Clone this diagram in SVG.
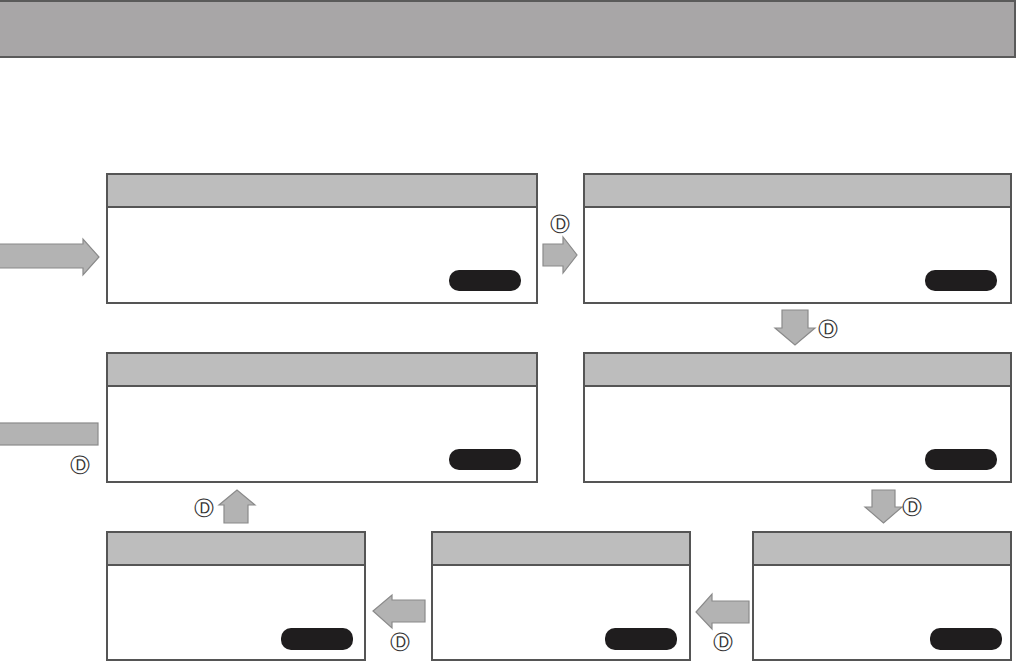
<svg xmlns="http://www.w3.org/2000/svg" width="1017" height="662" viewBox="0 0 1017 662">
<style>
.box{fill:#fff;stroke:#555;stroke-width:2}
.hdr{fill:#bdbdbd;stroke:#555;stroke-width:2}
.pill{fill:#1f1d1e}
.arr{fill:#b3b3b3;stroke:#8a8a8a;stroke-width:1.2}
.d{font-family:"DejaVu Sans",sans-serif;font-size:20px;fill:#333;text-anchor:middle;dominant-baseline:central}
</style>
<rect width="1017" height="662" fill="#fff"/>
<g id="banner"><rect x="-2" y="1" width="1017" height="56" fill="#a8a6a7" stroke="#5a5a5a" stroke-width="2"/></g>
<g id="n1"><rect class="box" x="107" y="174" width="430" height="129"/><rect class="hdr" x="107" y="174" width="430" height="33"/><rect class="pill" x="449" y="270" width="72" height="21" rx="10"/></g>
<g id="n2"><rect class="box" x="584" y="174" width="427" height="129"/><rect class="hdr" x="584" y="174" width="427" height="33"/><rect class="pill" x="925" y="270" width="72" height="21" rx="10"/></g>
<g id="n3"><rect class="box" x="107" y="353" width="430" height="129"/><rect class="hdr" x="107" y="353" width="430" height="33"/><rect class="pill" x="449" y="449" width="72" height="21" rx="10"/></g>
<g id="n4"><rect class="box" x="584" y="353" width="427" height="129"/><rect class="hdr" x="584" y="353" width="427" height="33"/><rect class="pill" x="925" y="449" width="72" height="21" rx="10"/></g>
<g id="n5"><rect class="box" x="107" y="532" width="258" height="128"/><rect class="hdr" x="107" y="532" width="258" height="33"/><rect class="pill" x="281" y="628" width="72" height="22" rx="10"/></g>
<g id="n6"><rect class="box" x="432" y="532" width="258" height="128"/><rect class="hdr" x="432" y="532" width="258" height="33"/><rect class="pill" x="605" y="628" width="72" height="22" rx="10"/></g>
<g id="n7"><rect class="box" x="753" y="532" width="258" height="128"/><rect class="hdr" x="753" y="532" width="258" height="33"/><rect class="pill" x="930" y="628" width="72" height="22" rx="10"/></g>
<g id="connectors">
<polygon class="arr" points="-2,244 83,244 83,239 99,257 83,275 83,268 -2,268"/>
<rect class="arr" x="-2" y="423" width="100" height="22"/>
<polygon class="arr" points="543,244 563,244 563,237 577,255 563,273 563,266 543,266"/>
<polygon class="arr" points="782,310 808,310 808,328 815,328 795,345 775,328 782,328"/>
<polygon class="arr" points="872,490 895,490 895,507 902,507 883.5,523 865,507 872,507"/>
<polygon class="arr" points="224,523 248,523 248,505 255,505 237,490 219,505 224,505"/>
<polygon class="arr" points="425,600 392,600 392,595 373,611 392,628 392,622 425,622"/>
<polygon class="arr" points="749,601 712,601 712,594 696,612 712,629 712,623 749,623"/>
<text class="d" x="560" y="224">Ⓓ</text>
<text class="d" x="80" y="465">Ⓓ</text>
<text class="d" x="828" y="329">Ⓓ</text>
<text class="d" x="912" y="507">Ⓓ</text>
<text class="d" x="204" y="508">Ⓓ</text>
<text class="d" x="400" y="642">Ⓓ</text>
<text class="d" x="723" y="642">Ⓓ</text>
</g>
</svg>
